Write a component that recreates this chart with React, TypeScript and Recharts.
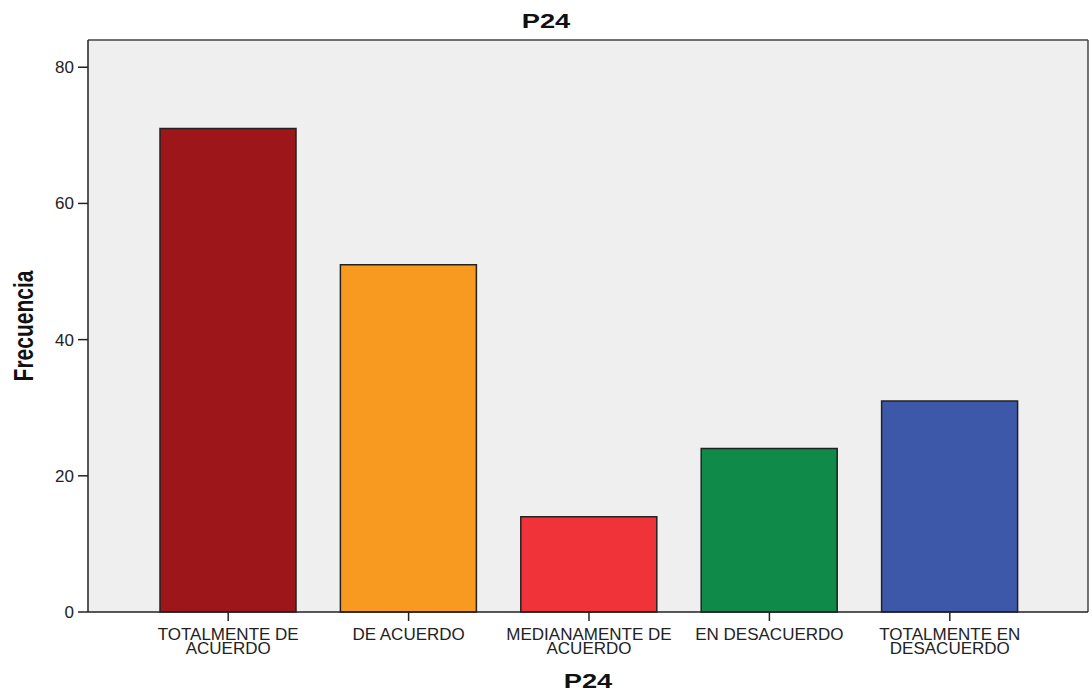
import React from "react";
import { BarChart, Bar, Cell, XAxis, YAxis, CartesianGrid } from "recharts";

const CATEGORIES = [
    "TOTALMENTE DE\nACUERDO",
    "DE ACUERDO",
    "MEDIANAMENTE DE\nACUERDO",
    "EN DESACUERDO",
    "TOTALMENTE EN\nDESACUERDO",
];
const FRECUENCIA = [71, 51, 14, 24, 31];
const COLORS = ["#9D1619", "#F89A1F", "#F03339", "#0F8A48", "#3D58A9"];
const Y_TICKS = [0, 20, 40, 60, 80];

const data = CATEGORIES.map((name, i) => ({ name, value: FRECUENCIA[i] }));

const FONT = "'Liberation Sans', Arial, sans-serif";

const CategoryTick = ({ x, y, payload }: any) => {
    const lines = String(payload.value).split("\n");
    return (
        <text x={x} y={y + 17} textAnchor="middle" fontFamily={FONT} fontSize={17} fill="#222">
            {lines.map((l, i) => (
                <tspan key={i} x={x} dy={i === 0 ? 0 : 14}>
                    {l}
                </tspan>
            ))}
        </text>
    );
};

const XLabel = ({ viewBox }: any) => {
    const cx = viewBox.x + viewBox.width / 2;
    const by = viewBox.y + viewBox.height - 5;
    return (
        <text
            transform={`translate(${cx}, ${by}) scale(1.3, 1)`}
            textAnchor="middle"
            fontFamily={FONT}
            fontWeight="bold"
            fontSize={21}
            fill="#111"
        >
            P24
        </text>
    );
};

const YLabel = ({ viewBox }: any) => {
    const cy = viewBox.y + viewBox.height / 2;
    return (
        <text
            transform={`translate(33, ${cy}) scale(1.28, 1) rotate(-90)`}
            textAnchor="middle"
            fontFamily={FONT}
            fontWeight="bold"
            fontSize={21}
            fill="#111"
        >
            Frecuencia
        </text>
    );
};

// frame lines on the top and right edges of the plot area
const topEdge = ({ offset }: any) => [offset.top];
const rightEdge = ({ offset }: any) => [offset.left + offset.width];

const App = () => (
    <div style={{ position: "absolute", left: 0, top: 0, width: 1092, height: 693, background: "#fff" }}>
        <div
            style={{
                position: "absolute",
                left: 0,
                top: 10,
                width: 1092,
                textAlign: "center",
                fontFamily: FONT,
                fontWeight: "bold",
                fontSize: 21,
                lineHeight: "21px",
                color: "#111",
                transform: "scaleX(1.3)",
            }}
        >
            P24
        </div>
        <BarChart width={1092} height={693} data={data} margin={{ top: 40, right: 4, left: 28, bottom: 0 }}>
            <CartesianGrid
                fill="#EFEFEF"
                stroke="#444"
                strokeWidth={1.5}
                syncWithTicks={false}
                horizontalCoordinatesGenerator={topEdge}
                verticalCoordinatesGenerator={rightEdge}
            />
            <XAxis
                dataKey="name"
                height={81}
                padding={{ left: 50, right: 48 }}
                tick={<CategoryTick />}
                tickSize={9}
                tickLine={{ stroke: "#222", strokeWidth: 1.5 }}
                axisLine={{ stroke: "#222", strokeWidth: 1.5 }}
                interval={0}
                label={<XLabel />}
            />
            <YAxis
                domain={[0, 84]}
                ticks={Y_TICKS}
                width={60}
                tickSize={10}
                tickMargin={4}
                tick={{ fontFamily: FONT, fontSize: 17, fill: "#222" }}
                tickLine={{ stroke: "#222", strokeWidth: 1.5 }}
                axisLine={{ stroke: "#222", strokeWidth: 1.5 }}
                label={<YLabel />}
            />
            <Bar dataKey="value" barSize={136} stroke="#222" strokeWidth={1.5} isAnimationActive={false}>
                {data.map((_, i) => (
                    <Cell key={`cell-${i}`} fill={COLORS[i]} />
                ))}
            </Bar>
        </BarChart>
    </div>
);

export default App;
